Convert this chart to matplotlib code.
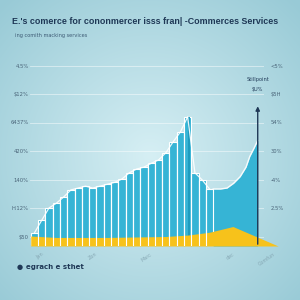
import numpy as np
import matplotlib.pyplot as plt
from matplotlib.colors import to_rgb

# ---- data ----
bar_values = [13.7, 27, 40, 45, 51.5, 59, 61, 63, 61, 63, 65, 67, 70.5, 77, 81,
              83, 87, 90.5, 98, 109.5, 120, 136, 77, 69.5, 60]
tail_x = [24.5, 25.5, 26.4, 27.3, 28.2, 29.0, 29.5, 30.1, 30.6]
tail_values = [60, 60, 61, 66, 73, 83, 94, 103, 111]
yellow_x = [-0.5, 3, 10, 18, 21, 24, 27.2, 33.4]
yellow_values = [10.5, 9, 9, 10, 11.5, 14.5, 20.5, 0]
left_ticks = [10, 40, 70, 100, 130, 160, 190]
left_labels = ["$50", "H.12%", "140%", "420%", "6437%", "$12%", "4.5%"]
right_labels = ["", "2.5%", "-4%", "30%", "54%", "$5H", "<5%"]
x_label_pos = [0.8, 8, 15.4, 26.8, 31.9]
x_labels = ["Jan", "Zon", "Marc", "dec", "Comfun"]
marker_x = 30.6
marker_top = 150
marker_labels = ["Stillpoint", "$U%"]

title = "E.'s comerce for cononmercer isss fran| -Commerces Services"
subtitle = "ing comith macking services"
logo = "egrach e sthet"

TEAL = "#36b4d5"
YELLOW = "#f7c21b"
NAVY = "#1f3856"

fig = plt.figure(figsize=(3, 3), dpi=100)

# background gradient
bg = fig.add_axes([0, 0, 1, 1], zorder=-10)
yy, xx = np.mgrid[0:1:300j, 0:1:300j]
r = np.sqrt(((xx - 0.5) / 0.75) ** 2 + ((yy - 0.52) / 0.75) ** 2)
r = np.clip(r / 0.95, 0, 1)
c0 = np.array(to_rgb("#d6eff4"))
c1 = np.array(to_rgb("#98cad6"))
img = c0[None, None, :] * (1 - r[..., None]) + c1[None, None, :] * r[..., None]
bg.imshow(img, extent=[0, 1, 0, 1], aspect="auto")
bg.axis("off")

ax = fig.add_axes([0.1, 0.18, 0.78, 190 / 300])
ax.set_facecolor("none")
ax.set_xlim(-0.6, 31.46)
ax.set_ylim(0, 200)

xs = np.arange(len(bar_values))
# gridlines
for t in left_ticks:
    ax.axhline(t, color="white", lw=0.6, alpha=0.55, zorder=0)

# tail area
ax.fill_between(tail_x, 0, tail_values, color=TEAL, lw=0, zorder=1)
ax.plot(tail_x, tail_values, color="white", lw=1.0, alpha=0.9, zorder=4)
# bars
ax.bar(xs, bar_values, width=1.0, color=TEAL, edgecolor="white", linewidth=0.8, zorder=2)
ax.bar([21], [bar_values[21]], width=0.35, align="edge", color="#1f9cbf", lw=0, zorder=2.5)
ax.plot(xs, bar_values, color="white", lw=0.9, alpha=0.9, zorder=4)

# yellow band
ax.fill_between(yellow_x, 0, yellow_values, color=YELLOW, lw=0, zorder=3, clip_on=False)
ax.vlines(xs[:-1] + 0.5, 0, [min(a, b) for a, b in zip(bar_values[:-1], bar_values[1:])],
          color="white", lw=0.8, zorder=3.5)

# marker line with arrow
ax.annotate("", xy=(marker_x, marker_top), xytext=(marker_x, -1),
            arrowprops=dict(arrowstyle="-|>", color=NAVY, lw=1.0, mutation_scale=6),
            zorder=5, annotation_clip=False)
ax.text(marker_x, marker_top + 25, marker_labels[0], ha="center", va="center",
        fontsize=3.6, color=NAVY)
ax.text(marker_x, marker_top + 15, marker_labels[1], ha="center", va="center",
        fontsize=3.6, color=NAVY)

# axes styling
for s in ax.spines.values():
    s.set_visible(False)
ax.axhline(0, color="#9dbcc6", lw=1.0, zorder=1)
ax.set_yticks(left_ticks)
ax.set_yticklabels(left_labels, fontsize=3.8, color="#4a6478")
ax.tick_params(axis="y", length=0, pad=1)
ax.set_xticks([])
ax2 = ax.twinx()
ax2.set_ylim(ax.get_ylim())
ax2.set_yticks(left_ticks)
ax2.set_yticklabels(right_labels, fontsize=3.8, color="#4a6478")
ax2.tick_params(axis="y", length=0, pad=5)
for s in ax2.spines.values():
    s.set_visible(False)

for xp, lab in zip(x_label_pos, x_labels):
    ax.text(xp, -6, lab, transform=ax.transData, rotation=35, ha="center", va="top",
            fontsize=3.5, color="#86a8b4", clip_on=False)

fig.text(0.04, 0.93, title, fontsize=6.4, color=NAVY, ha="left", va="center",
         fontweight="bold", family=["Liberation Sans", "DejaVu Sans"])
fig.text(0.05, 0.883, subtitle, fontsize=3.6, color="#3d5a74", ha="left", va="center")
fig.text(0.066, 0.11, "\u25cf", fontsize=5, color=NAVY, ha="center", va="center")
fig.text(0.085, 0.11, logo, fontsize=5, color=NAVY, ha="left", va="center",
         fontweight="bold")

fig.savefig("out.png", dpi=100)
